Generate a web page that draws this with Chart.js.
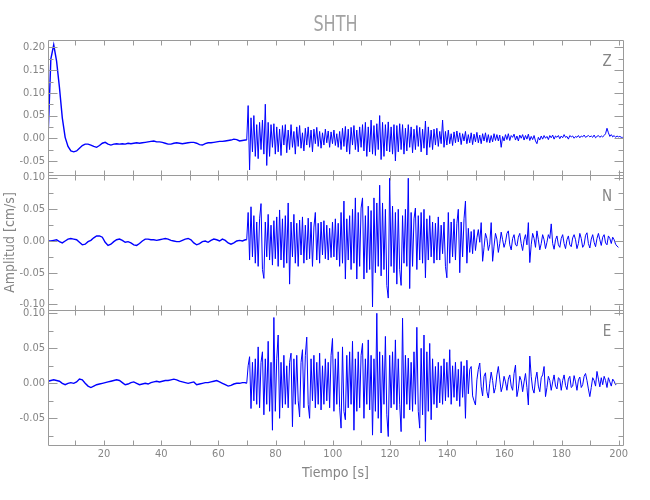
<!DOCTYPE html>
<html>
<head>
<meta charset="utf-8">
<script src="https://cdn.jsdelivr.net/npm/chart.js@4.4.1/dist/chart.umd.min.js"></script>
<style>
  html, body { margin: 0; padding: 0; background: #fff; }
  #wrap { width: 650px; height: 500px; }
</style>
</head>
<body>
<div id="wrap"><canvas id="seis" width="650" height="500"></canvas></div>
<script>
// --- data ---
// pre-event part: 1 s samples starting at 0.4 s
const PRE_T0 = 0.4, PRE_DT = 1;
// event part: 0.5 s samples starting at 69.9 s
const EVT_T0 = 69.9, EVT_DT = 0.5;

const components = ['Z', 'N', 'E'];

const zPre = [
  0.000, 0.175, 0.206, 0.170, 0.112, 0.045, 0.002, -0.018, -0.028, -0.030,
  -0.028, -0.022, -0.016, -0.013, -0.013, -0.015, -0.018, -0.020, -0.016, -0.011,
  -0.009, -0.013, -0.015, -0.013, -0.012, -0.013, -0.012, -0.013, -0.011, -0.012,
  -0.011, -0.010, -0.011, -0.010, -0.009, -0.008, -0.007, -0.006, -0.008, -0.008,
  -0.009, -0.011, -0.013, -0.013, -0.011, -0.010, -0.011, -0.012, -0.011, -0.010,
  -0.009, -0.009, -0.011, -0.014, -0.015, -0.012, -0.010, -0.010, -0.009, -0.008,
  -0.007, -0.007, -0.006, -0.005, -0.004, -0.002, -0.003, -0.006, -0.005, -0.004
];
const zEvt = [
  -0.004, 0.072, -0.070, 0.045, -0.030, 0.050, -0.040, 0.030, -0.045, 0.035,
  -0.025, 0.040, -0.035, 0.075, -0.060, 0.035, -0.040, 0.030, -0.020, 0.032,
  -0.035, 0.025, -0.030, 0.020, -0.038, 0.028, -0.015, 0.030, -0.032, 0.018,
  -0.025, 0.030, -0.020, 0.015, -0.035, 0.025, -0.018, 0.028, -0.022, 0.012,
  -0.028, 0.022, -0.015, 0.025, -0.020, 0.018, -0.030, 0.020, -0.012, 0.024,
  -0.018, 0.015, -0.022, 0.012, -0.015, 0.020, -0.010, 0.016, -0.020, 0.014,
  -0.012, 0.018, -0.016, 0.010, -0.020, 0.015, -0.025, 0.022, -0.018, 0.026,
  -0.030, 0.020, -0.035, 0.024, -0.015, 0.028, -0.025, 0.018, -0.030, 0.025,
  -0.020, 0.030, -0.028, 0.035, -0.040, 0.025, -0.030, 0.040, -0.035, 0.028,
  -0.038, 0.032, -0.025, 0.050, -0.047, 0.035, -0.040, 0.030, -0.028, 0.036,
  -0.030, 0.025, -0.035, 0.030, -0.050, 0.028, -0.030, 0.032, -0.025, 0.030,
  -0.035, 0.022, -0.028, 0.030, -0.020, 0.025, -0.032, 0.020, -0.025, 0.028,
  -0.018, 0.024, -0.030, 0.020, -0.022, 0.038, -0.037, 0.025, -0.020, 0.018,
  -0.025, 0.020, -0.015, 0.022, -0.018, 0.015, -0.012, 0.040, -0.020, 0.015,
  -0.015, 0.018, -0.012, 0.010, -0.016, 0.014, -0.010, 0.016, -0.008, 0.012,
  -0.014, 0.010, -0.006, 0.015, -0.012, 0.008, -0.010, 0.012, -0.014, 0.009,
  -0.008, 0.013, -0.010, 0.007, -0.012, 0.010, -0.006, 0.012, -0.009, 0.008,
  -0.010, 0.006, -0.008, 0.010, -0.005, 0.008, -0.006, 0.007, -0.020, 0.004,
  -0.006, 0.008, -0.003, 0.010, -0.005, 0.006, 0.002, 0.009, -0.004, 0.005,
  -0.006, 0.007, 0.000, 0.008, -0.004, 0.006, -0.002, 0.009, -0.005, 0.004,
  -0.003, 0.006, -0.006, -0.012, 0.002, -0.004, 0.005, -0.002, 0.006, 0.000,
  0.004, -0.003, 0.006, 0.001, 0.007, -0.002, 0.005, 0.002, 0.006, -0.001,
  0.005, 0.001, 0.008, 0.002, 0.004, -0.002, 0.006, 0.003, 0.005, 0.000,
  0.004, 0.002, 0.006, 0.001, 0.005, 0.003, 0.007, 0.002, 0.004, 0.006,
  0.003, 0.005, 0.002, 0.007, 0.001, 0.004, 0.006, 0.002, 0.005, 0.003,
  0.006, 0.010, 0.022, 0.012, 0.004, 0.008, 0.003, 0.006, 0.002, 0.005,
  0.003, 0.004, 0.002, 0.002
];

const nPre = [
  0.000, 0.000, 0.001, 0.002, -0.001, -0.003, 0.000, 0.003, 0.004, 0.003,
  0.002, -0.002, -0.006, -0.005, -0.001, 0.001, 0.005, 0.008, 0.008, 0.006,
  -0.002, -0.007, -0.005, -0.001, 0.002, 0.003, 0.001, -0.002, -0.001, -0.003,
  -0.006, -0.007, -0.004, 0.000, 0.003, 0.003, 0.002, 0.002, 0.001, 0.002,
  0.003, 0.004, 0.003, 0.001, 0.000, -0.001, -0.001, 0.001, 0.003, 0.004,
  0.002, -0.003, -0.006, -0.004, -0.001, 0.000, -0.002, 0.001, 0.003, 0.002,
  0.000, 0.003, 0.001, -0.003, -0.005, -0.003, 0.000, 0.001, 0.000, 0.002
];
const nEvt = [
  0.002, 0.045, -0.030, 0.054, -0.025, 0.040, -0.035, 0.030, -0.040, 0.035,
  0.059, -0.045, -0.059, 0.030, -0.025, 0.042, -0.030, 0.025, -0.038, 0.032,
  -0.028, 0.038, -0.040, 0.049, -0.030, 0.035, -0.042, 0.040, -0.035, 0.060,
  -0.068, 0.030, -0.025, 0.042, -0.035, 0.028, -0.040, 0.033, -0.022, 0.038,
  -0.035, 0.025, -0.030, 0.036, -0.028, 0.030, -0.040, 0.022, 0.045, -0.030,
  0.028, -0.035, 0.030, -0.022, 0.032, -0.028, 0.025, -0.030, 0.020, -0.026,
  0.030, -0.025, 0.035, -0.030, 0.028, -0.040, 0.045, -0.035, 0.063, -0.060,
  0.035, -0.030, 0.040, -0.045, 0.050, -0.035, 0.068, -0.060, 0.045, -0.040,
  0.052, 0.068, -0.060, 0.040, -0.050, 0.055, -0.045, 0.048, -0.104, 0.068,
  -0.050, 0.060, -0.040, 0.088, -0.055, 0.060, -0.045, 0.050, -0.070, -0.090,
  0.099, -0.040, 0.055, -0.050, 0.045, -0.068, 0.050, -0.045, -0.070, 0.040,
  -0.035, 0.050, -0.040, 0.099, -0.075, 0.045, -0.040, 0.035, 0.052, -0.045,
  0.040, -0.030, 0.045, -0.035, 0.050, -0.058, 0.035, -0.030, 0.040, -0.025,
  0.030, -0.035, 0.028, -0.030, 0.038, -0.030, 0.025, -0.020, 0.030, -0.040,
  -0.058, 0.045, -0.035, 0.030, -0.025, 0.035, -0.030, 0.028, 0.050, -0.050,
  0.030, -0.025, 0.035, 0.063, -0.035, 0.020, -0.018, 0.015, -0.020, 0.018,
  -0.015, 0.005, 0.018, -0.002, 0.029, -0.032, -0.010, 0.012, 0.004, -0.015,
  -0.005, 0.029, -0.032, -0.008, 0.012, 0.003, -0.018, -0.004, 0.014, 0.002,
  -0.010, -0.002, 0.012, 0.016, -0.006, -0.014, 0.004, 0.010, -0.006, -0.008,
  0.006, 0.012, -0.004, -0.015, 0.002, 0.010, -0.006, 0.029, -0.034, -0.006,
  0.012, 0.004, -0.010, 0.016, 0.002, -0.014, -0.004, 0.010, 0.002, -0.012,
  -0.002, 0.010, 0.004, 0.027, -0.004, -0.013, 0.002, 0.008, -0.006, -0.010,
  0.004, 0.010, -0.004, -0.012, 0.002, 0.008, -0.006, -0.009, 0.005, 0.010,
  0.002, -0.012, -0.004, 0.012, 0.004, -0.010, -0.006, 0.009, 0.013, -0.004,
  -0.011, 0.003, 0.010, -0.002, -0.009, 0.004, 0.012, 0.002, -0.007, 0.006,
  0.010, -0.003, -0.006, 0.008, 0.004, -0.004, 0.006, 0.002, -0.005, -0.008,
  -0.010
];

const ePre = [
  0.003, 0.004, 0.005, 0.004, 0.003, 0.000, -0.002, 0.000, 0.001, 0.000,
  0.002, 0.006, 0.005, 0.000, -0.004, -0.006, -0.004, -0.002, -0.001, 0.000,
  0.001, 0.002, 0.003, 0.004, 0.005, 0.004, 0.001, -0.002, -0.001, 0.001,
  0.002, 0.000, -0.002, -0.001, 0.000, -0.001, 0.001, 0.002, 0.003, 0.002,
  0.003, 0.004, 0.004, 0.005, 0.006, 0.005, 0.003, 0.002, 0.001, 0.000,
  0.001, 0.002, -0.002, -0.001, 0.000, 0.001, 0.001, 0.002, 0.003, 0.004,
  0.002, 0.000, -0.002, -0.004, -0.003, -0.001, 0.000, 0.000, 0.001, 0.001
];
const eEvt = [
  0.000, 0.025, 0.038, -0.036, 0.030, -0.025, 0.035, -0.030, 0.052, -0.035,
  0.030, 0.045, -0.045, 0.035, -0.030, 0.060, -0.040, 0.030, -0.067, 0.094,
  -0.040, 0.035, 0.069, -0.050, 0.030, -0.035, 0.040, -0.030, 0.025, -0.035,
  0.030, 0.043, -0.062, 0.035, -0.030, 0.040, -0.025, -0.048, 0.030, 0.048,
  -0.035, 0.040, 0.066, -0.030, -0.050, 0.035, -0.025, 0.040, -0.035, 0.030,
  -0.030, 0.043, -0.038, 0.025, -0.030, 0.035, -0.025, 0.030, -0.035, 0.040,
  0.064, -0.040, 0.035, -0.030, 0.045, -0.035, -0.064, 0.052, -0.040, -0.052,
  0.040, -0.035, 0.045, -0.030, 0.060, -0.067, 0.035, -0.040, 0.045, -0.035,
  0.040, 0.057, -0.050, 0.035, -0.030, 0.062, -0.038, 0.040, -0.074, 0.035,
  -0.040, 0.100, -0.050, 0.045, -0.071, 0.040, -0.030, 0.067, -0.045, -0.076,
  0.040, -0.035, 0.045, -0.030, 0.062, -0.038, 0.035, -0.030, -0.069, 0.093,
  -0.050, 0.040, -0.030, 0.036, -0.038, 0.030, -0.040, 0.045, -0.030, 0.080,
  -0.040, -0.064, 0.050, -0.045, 0.069, -0.083, 0.045, -0.040, 0.057, -0.052,
  0.035, -0.030, 0.024, -0.035, 0.030, -0.028, 0.025, -0.030, 0.035, -0.025,
  0.030, -0.020, 0.048, -0.030, 0.025, -0.020, 0.030, -0.025, 0.020, -0.033,
  0.031, -0.020, 0.025, -0.050, 0.033, -0.015, 0.020, 0.024, -0.018, -0.025,
  -0.031, 0.005, 0.020, 0.029, -0.005, -0.018, 0.010, 0.015, -0.012, -0.021,
  0.000, 0.016, 0.004, -0.014, -0.006, 0.012, 0.024, 0.006, -0.012, -0.004,
  0.010, 0.002, -0.010, 0.006, 0.012, -0.004, -0.010, 0.014, 0.026, -0.019,
  -0.008, 0.010, 0.004, -0.012, 0.002, 0.014, -0.006, -0.031, 0.039, 0.010,
  -0.008, -0.014, 0.006, 0.016, -0.004, -0.012, 0.008, 0.012, 0.024, -0.019,
  -0.006, 0.010, 0.004, -0.010, 0.002, 0.012, -0.004, -0.008, 0.008, 0.006,
  -0.010, 0.004, 0.012, -0.003, -0.009, 0.006, 0.010, -0.006, -0.004, 0.011,
  0.002, -0.010, 0.005, 0.009, -0.006, -0.002, 0.010, 0.014, 0.004, -0.008,
  -0.019, -0.006, 0.008, 0.004, -0.004, 0.017, 0.006, -0.005, 0.008, -0.002,
  0.010, 0.004, -0.006, 0.008, 0.002, -0.004, 0.006, 0.003, -0.002, 0.000
];

// axis limits
const xRange = [0.4, 201.5];
const zRange = [-0.081, 0.2165];
const nRange = [-0.1088, 0.1041];
const eRange = [-0.0881, 0.1047];

const TRACE = '#0000ff';
const AXIS = '#9a9a9a';
const TEXT = '#858585';
const FONT = "'Liberation Sans Narrow', 'DejaVu Sans Condensed', 'Liberation Sans', sans-serif";

function series(pre, evt) {
  return pre.map((v, i) => ({ x: PRE_T0 + i * PRE_DT, y: v }))
    .concat(evt.map((v, i) => ({ x: EVT_T0 + i * EVT_DT, y: v })));
}

function trace(pre, evt, axis) {
  return {
    data: series(pre, evt),
    yAxisID: axis,
    borderColor: TRACE,
    borderWidth: 1,
    pointRadius: 0,
    tension: 0,
    segment: {
      // the quiet part is drawn a bit heavier, like the noisy band in the original
      borderWidth: c => c.p1.parsed.x <= EVT_T0 ? 1.4 : 1
    }
  };
}

function yAxis(range) {
  return {
    type: 'linear',
    position: 'left',
    stack: 'panels',
    stackWeight: 1,
    min: range[0],
    max: range[1],
    grid: { display: false, drawTicks: false },
    border: { display: false },
    ticks: {
      stepSize: 0.025,
      includeBounds: false,
      autoSkip: false,
      padding: 3,
      color: TEXT,
      font: { family: FONT, size: 11 },
      callback: v => Math.round(v * 1000) % 50 === 0 ? v.toFixed(2) : ''
    },
    afterFit: s => { s.width = 48; }
  };
}

// frame, inside ticks and the loose texts
const frame = {
  id: 'frame',
  afterDatasetsDraw(chart) {
    const { ctx, chartArea: a, scales } = chart;
    const x = scales.x;
    const L = Math.round(a.left) + 0.5, R = Math.round(a.right) + 0.5;
    ctx.save();
    ctx.strokeStyle = AXIS;
    ctx.lineWidth = 1;
    ctx.beginPath();
    ['yZ', 'yN', 'yE'].forEach(id => {
      const y = scales[id];
      const T = Math.round(y.top) + 0.5, B = Math.round(y.bottom) + 0.5;
      ctx.rect(L, T, R - L, B - T);
      x.ticks.forEach(t => {
        const px = Math.round(x.getPixelForValue(t.value)) + 0.5;
        ctx.moveTo(px, T); ctx.lineTo(px, T + 5);
        ctx.moveTo(px, B); ctx.lineTo(px, B - 5);
      });
      y.ticks.forEach(t => {
        const py = Math.round(y.getPixelForValue(t.value)) + 0.5;
        const len = Math.round(t.value * 1000) % 50 === 0 ? 9 : 5;
        ctx.moveTo(L, py); ctx.lineTo(L + len, py);
        ctx.moveTo(R, py); ctx.lineTo(R - len, py);
      });
    });
    ctx.stroke();

    ctx.fillStyle = TEXT;
    ctx.textAlign = 'center';
    ctx.textBaseline = 'alphabetic';
    ctx.font = "15px " + FONT;
    components.forEach((c, i) => {
      const y = scales[['yZ', 'yN', 'yE'][i]];
      ctx.fillText(c, a.right - 16, y.top + 26);
    });

    const cx = (a.left + a.right) / 2;
    ctx.font = "14px " + FONT;
    ctx.fillText('Tiempo [s]', cx, 477);

    ctx.save();
    ctx.translate(14, (a.top + a.bottom) / 2);
    ctx.rotate(-Math.PI / 2);
    ctx.fillText('Amplitud [cm/s]', 0, 0);
    ctx.restore();

    ctx.fillStyle = '#a3a3a3';
    ctx.font = "21px " + FONT;
    ctx.save();
    ctx.translate(cx, 30.5);
    ctx.scale(0.85, 1);
    ctx.fillText('SHTH', 0, 0);
    ctx.restore();
    ctx.restore();
  }
};

new Chart(document.getElementById('seis'), {
  type: 'line',
  data: {
    datasets: [
      trace(zPre, zEvt, 'yZ'),
      trace(nPre, nEvt, 'yN'),
      trace(ePre, eEvt, 'yE')
    ]
  },
  options: {
    responsive: false,
    animation: false,
    events: [],
    layout: { padding: { top: 40, right: 27, left: 0, bottom: 0 } },
    plugins: {
      legend: { display: false },
      tooltip: { enabled: false },
      title: { display: false }
    },
    scales: {
      x: {
        type: 'linear',
        position: 'bottom',
        min: xRange[0],
        max: xRange[1],
        grid: { display: false, drawTicks: false },
        border: { display: false },
        ticks: {
          stepSize: 10,
          includeBounds: false,
          autoSkip: false,
          maxRotation: 0,
          padding: 3,
          color: TEXT,
          font: { family: FONT, size: 11 },
          callback: v => v % 20 === 0 ? String(v) : ''
        },
        afterFit: s => { s.height = 55; }
      },
      // later entries in a left stack are placed higher up
      yE: yAxis(eRange),
      yN: yAxis(nRange),
      yZ: yAxis(zRange)
    }
  },
  plugins: [frame]
});
</script>
</body>
</html>
